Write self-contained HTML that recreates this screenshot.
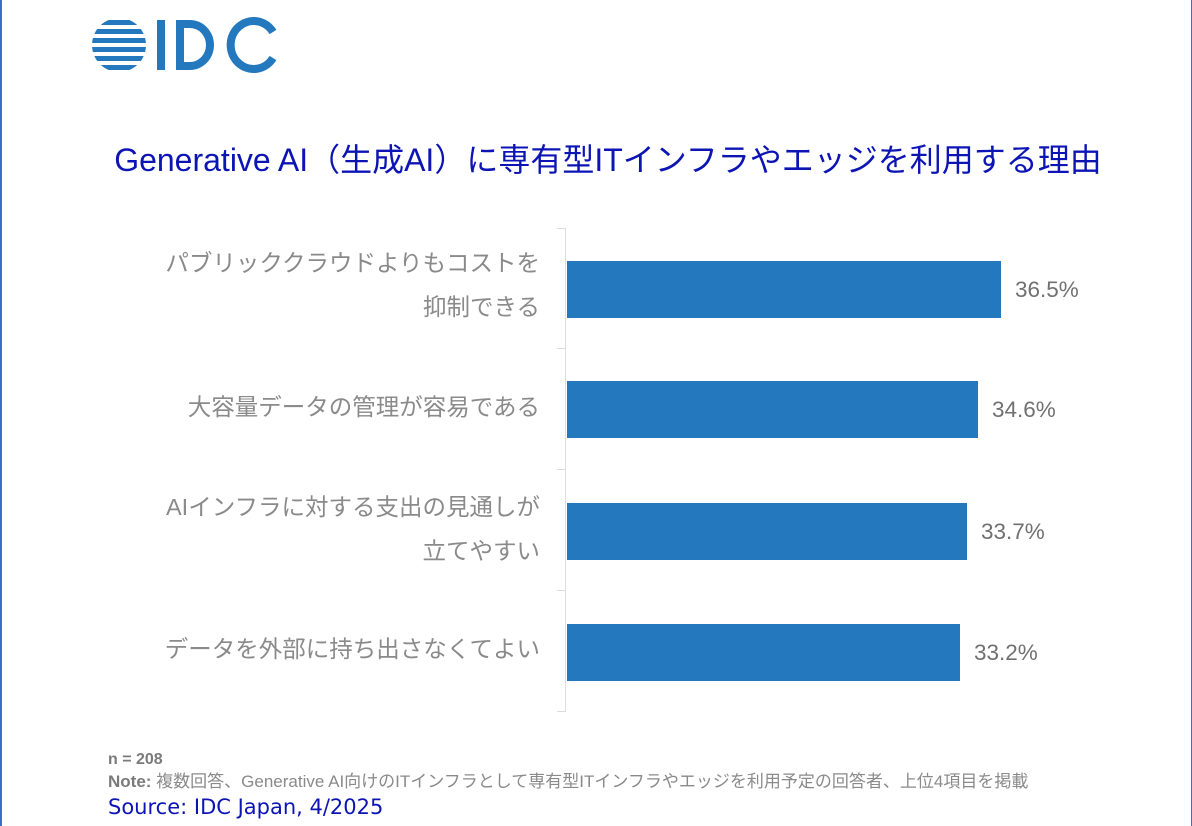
<!DOCTYPE html>
<html><head><meta charset="utf-8"><style>
body{margin:0;width:1192px;height:826px;background:#fff;position:relative;overflow:hidden;font-family:"Liberation Sans","Noto Sans CJK JP",sans-serif}
.a{position:absolute}
.bar{position:absolute;left:567px;height:57px;background:#2479be}
.lab{position:absolute;right:652px;text-align:right;color:#8a8a8a;font-size:23.5px;line-height:44px;white-space:nowrap}
.val{position:absolute;color:#707070;font-size:22.5px;line-height:26px}
.tick{position:absolute;left:557px;width:8px;height:1px;background:#ddd}
</style></head><body>
<div class="a" style="left:0;top:0;width:2px;height:826px;background:#3a6fc9"></div>
<div class="a" style="right:0;top:0;width:1px;height:826px;background:#3a6fc9"></div>
<svg class="a" style="left:92px;top:17px" width="190" height="56" viewBox="0 0 190 56">
<defs><clipPath id="c"><circle cx="27" cy="28" r="27"/></clipPath></defs>
<g clip-path="url(#c)" fill="#2479be">
<rect x="0" y="3" width="60" height="5"/><rect x="0" y="12" width="60" height="5"/><rect x="0" y="21" width="60" height="5"/><rect x="0" y="30" width="60" height="5"/><rect x="0" y="39" width="60" height="5"/><rect x="0" y="48" width="60" height="5"/>
</g>
<rect x="65" y="3" width="8" height="50" fill="#2479be"/>
<path d="M84 3h14a24 25 0 0 1 0 50h-14z M92 11v34h6a16 17 0 0 0 0-34z" fill="#2479be" fill-rule="evenodd"/>
<path d="M181 15a23 24 0 1 0 0 26" fill="none" stroke="#2479be" stroke-width="8"/>
</svg>
<div class="a" style="left:0;width:1216px;top:139px;text-align:center;color:#0c14b4;font-size:32px;line-height:42px;white-space:nowrap">Generative AI（生成AI）に専有型ITインフラやエッジを利用する理由</div>
<div class="a" style="left:565px;top:228px;width:1px;height:484px;background:#ddd"></div>
<div class="tick" style="top:228px"></div><div class="tick" style="top:348px"></div><div class="tick" style="top:469px"></div><div class="tick" style="top:590px"></div><div class="tick" style="top:711px"></div>
<div class="bar" style="top:261px;width:434px"></div>
<div class="bar" style="top:381px;width:411px"></div>
<div class="bar" style="top:503px;width:400px"></div>
<div class="bar" style="top:624px;width:393px"></div>
<div class="val" style="left:1015px;top:277px">36.5%</div>
<div class="val" style="left:992px;top:397px">34.6%</div>
<div class="val" style="left:981px;top:519px">33.7%</div>
<div class="val" style="left:974px;top:640px">33.2%</div>
<div class="lab" style="top:241px">パブリッククラウドよりもコストを<br>抑制できる</div>
<div class="lab" style="top:385px">大容量データの管理が容易である</div>
<div class="lab" style="top:485px">AIインフラに対する支出の見通しが<br>立てやすい</div>
<div class="lab" style="top:627px">データを外部に持ち出さなくてよい</div>
<div class="a" style="left:108px;top:750px;color:#7a7a7a;font-size:16px;line-height:20px;font-weight:bold">n = 208</div>
<div class="a" style="left:108px;top:771px;color:#8a8a8a;font-size:17px;line-height:22px;white-space:nowrap"><b style="color:#7a7a7a">Note:</b> 複数回答、Generative AI向けのITインフラとして専有型ITインフラやエッジを利用予定の回答者、上位4項目を掲載</div>
<div class="a" style="left:108px;top:794px;color:#0c14b4;font-size:21px;line-height:26px;font-family:'DejaVu Sans',sans-serif">Source: IDC Japan, 4/2025</div>
</body></html>
